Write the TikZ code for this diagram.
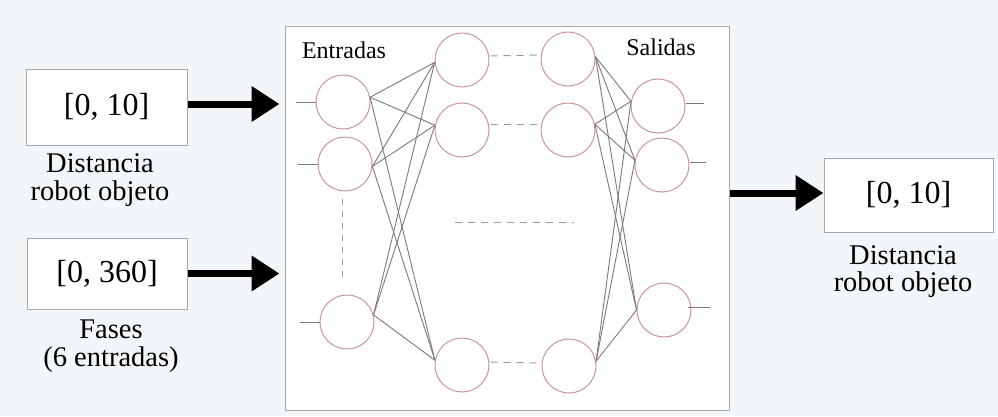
\documentclass[tikz,border=0pt]{standalone}
\usepackage{fontspec}
\setmainfont{Liberation Serif}
\usetikzlibrary{arrows.meta}
\definecolor{bg}{HTML}{F3F6F9}
\definecolor{neur}{HTML}{C9959A}
\definecolor{wire}{HTML}{7A7A7A}
\definecolor{frame}{HTML}{A8A8A8}
\definecolor{dashc}{HTML}{9A9A9A}
\begin{document}
\begin{tikzpicture}[x=1pt,y=-1pt,
  neuron/.style={circle,draw=neur,line width=1pt,minimum size=54pt,inner sep=0pt},
  wirel/.style={draw=wire,line width=0.9pt},
  stubl/.style={draw=wire,line width=1pt},
  dashl/.style={draw=dashc,line width=1pt,dash pattern=on 7pt off 6pt},
  valbox/.style={draw=frame,line width=1pt,fill=white,inner sep=0pt,font=\fontsize{32}{34}\selectfont},
  lbl/.style={align=center,font=\fontsize{28.5}{27.5}\selectfont,inner sep=0pt},
  layerlbl/.style={font=\fontsize{24}{26}\selectfont,inner sep=0pt},
  bigarrow/.style={line width=7pt,-{Triangle[length=28pt,width=34pt]}}
]
\fill[bg] (0,0) rectangle (998,416);
\useasboundingbox (0,0) rectangle (998,416);

% main frame
\node[draw=frame,line width=1pt,fill=white,minimum width=444pt,minimum height=384pt,inner sep=0pt] (main) at (507,218) {};

% value boxes
\node[valbox,minimum width=161pt,minimum height=76pt] (box1) at (106.5,107) {[0, 10]};
\node[valbox,minimum width=160pt,minimum height=71pt] (box2) at (107,273.5) {[0, 360]};
\node[valbox,minimum width=169pt,minimum height=74pt] (box3) at (908.5,195) {[0, 10]};

% labels
\node[lbl] (lbl1) at (100,180) {Distancia\\robot objeto};
\node[lbl] (lbl2) at (111,346) {Fases\\(6 entradas)};
\node[lbl] (lbl3) at (903,271.5) {Distancia\\robot objeto};
\node[layerlbl] (ent) at (344,50) {Entradas};
\node[layerlbl] (sal) at (661,47) {Salidas};

% arrows
\draw[bigarrow,shorten >=5pt] ([yshift=3pt]box1.east) -- ([yshift=3pt]box1.east -| main.west);
\draw[bigarrow,shorten >=5pt] (box2.east) -- (box2.east -| main.west);
\draw[bigarrow] ([yshift=2pt]main.east |- box3.west) -- ([yshift=2pt]box3.west);

% neurons
\node[neuron] (i1) at (343,102) {};
\node[neuron] (i2) at (345,164) {};
\node[neuron] (i3) at (347,322) {};
\node[neuron] (h1a) at (462,60) {};
\node[neuron] (h1b) at (462,130) {};
\node[neuron] (h1c) at (462,365) {};
\node[neuron] (h2a) at (568,59) {};
\node[neuron] (h2b) at (568,130) {};
\node[neuron] (h2c) at (569,366) {};
\node[neuron] (o1) at (658,106) {};
\node[neuron] (o2) at (662,165) {};
\node[neuron] (o3) at (664,310) {};

% stubs
\foreach \n in {i1,i2,i3} \draw[stubl] ([xshift=-20pt]\n.west) -- (\n.west);
\draw[stubl] ([yshift=3pt]o1.east) -- ++(18,0);
\draw[stubl] ([yshift=3pt]o2.east) -- ++(16,0);
\draw[stubl] ([xshift=-4pt,yshift=3pt]o3.east) -- ++(22,0);

% connections
\foreach \a in {i1.10,i2.-5,i3.15}
  \foreach \b in {h1a.185,h1b.170,h1c.170}
    \draw[wirel] (\a) -- (\b);
\foreach \a in {h2a.5,h2b.12,h2c.10}
  \foreach \b in {o1.170,o2.170,o3.west}
    \draw[wirel] (\a) -- (\b);

% dashed lines
\draw[dashl,dash pattern=on 6pt off 6pt,shorten <=7pt,shorten >=13pt] ([xshift=-3pt]i2.south) -- ([xshift=-5pt]i3.north);
\draw[dashl,shorten <=1pt,shorten >=4pt] ([yshift=4pt]h1a.east) -- ([yshift=4pt]h2a.west);
\draw[dashl,shorten <=1pt,shorten >=4pt] ([yshift=6pt]h1b.east) -- ([yshift=6pt]h2b.west);
\draw[dashl,shorten <=1pt,shorten >=4pt] ([yshift=3pt]h1c.east) -- ([yshift=3pt]h2c.west);
\coordinate (m1) at (455,222);
\coordinate (m2) at (574,222);
\draw[dashl,line width=0.8pt] (m1) -- (m2);
\end{tikzpicture}
\end{document}
